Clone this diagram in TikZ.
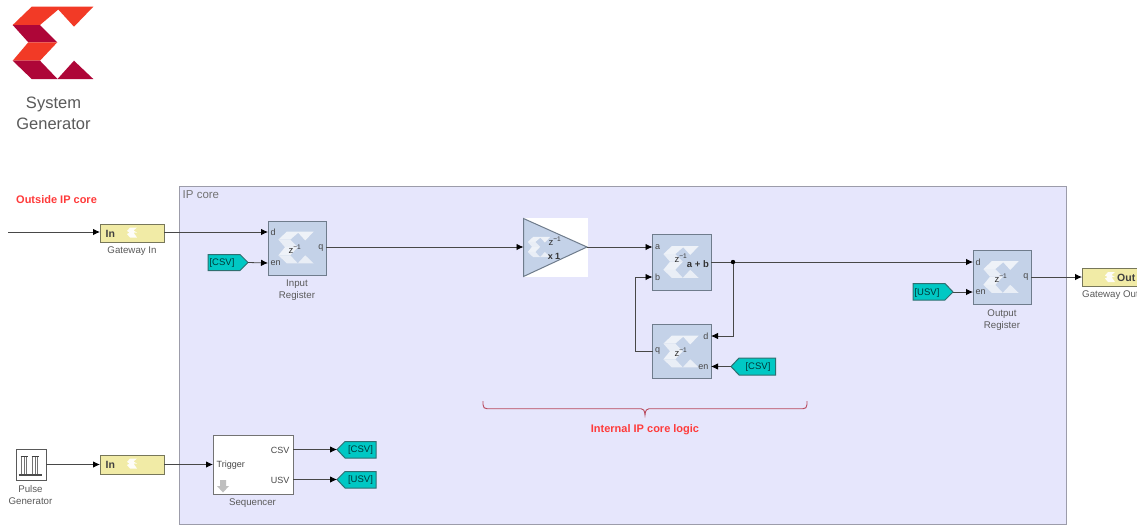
\documentclass[tikz,border=0pt]{standalone}
\usepackage{fontspec}
\setmainfont{Liberation Sans}
\usetikzlibrary{arrows.meta}
\definecolor{corefill}{HTML}{E6E6FC}
\definecolor{coreline}{HTML}{9C9CAA}
\definecolor{blockfill}{HTML}{C4D2E8}
\definecolor{blockline}{HTML}{6F7C8C}
\definecolor{gwfill}{HTML}{F1EBA6}
\definecolor{gwline}{HTML}{77775A}
\definecolor{tagfill}{HTML}{00C8C4}
\definecolor{tagline}{HTML}{2F6F70}
\definecolor{txt}{HTML}{5A5A5A}
\definecolor{logoor}{HTML}{F23A26}
\definecolor{logomr}{HTML}{AE0638}
\definecolor{redtxt}{HTML}{FF3B3B}
\definecolor{bracecol}{HTML}{B8485C}
\definecolor{logopale}{HTML}{EEF2F8}
% logo geometry, centred on (0,0), about 81 x 72 units
\newcommand{\xmark}[4]{% cx, cy, scale, fill
  \begin{scope}[shift={(#1,#2)},xscale=#3,yscale=#3]
    \fill[#4] (-21,-36) -- (40,-36) -- (21,-16) -- (5,-33.5) -- (-13,-18) -- (-40,-18) -- cycle;
    \fill[#4!88!blockfill] (-40,-18) -- (-13,-18) -- (4,-.7) -- (-25,-.7) -- cycle;
    \fill[#4] (-25,-.7) -- (4,-.7) -- (-13,17.7) -- (-40,17.7) -- cycle;
    \fill[#4!88!blockfill] (-40,17.7) -- (-13,17.7) -- (4,36) -- (-21,36) -- cycle;
    \fill[#4!88!blockfill] (4,36) -- (21,17.7) -- (40,36) -- cycle;
  \end{scope}}
\newcommand{\gwmark}[2]{% the small white mark in a gateway
  \begin{scope}[shift={(#1,#2)}]
    \fill[white!92!gwfill] (-2,-5) -- (5,-5) -- (1.5,-2) -- (5,0) -- (1.5,0) -- (5,5) -- (-2,5) -- (-5,1.5) -- (-2.5,0) -- (-5,-1.5) -- cycle;
  \end{scope}}
\newcommand{\zlab}[2]{\node[font=\fontsize{9.5}{10}\selectfont,text=black!80,inner sep=0pt] at (#1,#2) {z\textsuperscript{−1}};}
\tikzset{
  x=1pt,y=-1pt,
  lab/.style={font=\fontsize{9.7}{12}\selectfont,text=txt,align=center,inner sep=0pt},
  port/.style={font=\fontsize{9}{10}\selectfont,text=black!72,inner sep=0pt},
  blockbox/.style={draw=blockline,line width=1pt,fill=blockfill,inner sep=0pt,outer sep=0pt},
  gwbox/.style={draw=gwline,line width=.9pt,fill=gwfill,inner sep=0pt,outer sep=0pt},
  gwtext/.style={font=\fontsize{10.5}{11}\selectfont\bfseries,text=black!75,inner sep=0pt},
  tagtext/.style={font=\fontsize{9.5}{10}\selectfont,text=black!55!teal,inner sep=0pt,yshift=-1pt},
  tagshape/.style={draw=tagline,line width=1pt,fill=tagfill},
  wire/.style={draw=black!72,line width=.8pt},
  arrow/.style={wire,-{Latex[length=7pt,width=6.5pt,black]}},
  redlab/.style={font=\fontsize{11}{13}\selectfont\bfseries,text=redtxt,inner sep=0pt}
}
\newcommand{\xblock}[5]{% name, x0,y0,w,h
  \node[blockbox,minimum width=#4pt,minimum height=#5pt,anchor=north west] (#1) at (#2,#3) {};}
\begin{document}
\begin{tikzpicture}
\useasboundingbox (0,0) rectangle (1137,525);
\fill[white] (0,0) rectangle (1137,525);
% logo
\fill[logoor] (31.7,6.7) -- (93.3,6.7) -- (74,26.7) -- (58.3,9.5) -- (40,25) -- (12.7,25) -- cycle;
\fill[logomr] (12.7,25) -- (40,25) -- (57.3,42.3) -- (28.3,42.3) -- cycle;
\fill[logoor] (28.3,42.3) -- (57.3,42.3) -- (40,60.7) -- (12.7,60.7) -- cycle;
\fill[logomr] (12.7,60.7) -- (40,60.7) -- (57.5,79) -- (31.7,79) -- cycle;
\fill[logomr] (57.5,79) -- (74,60.7) -- (93.3,79) -- cycle;
\node[font=\fontsize{16.5}{21}\selectfont,text=txt,align=center,inner sep=0pt] (sysgen) at (53.5,113.5) {System\\Generator};
% IP core
\node[draw=coreline,line width=1pt,fill=corefill,minimum width=887pt,minimum height=338pt,anchor=north west,inner sep=0pt,outer sep=0pt] (core) at (179,186) {};
\node[font=\fontsize{11.5}{12}\selectfont,text=black!55,inner sep=0pt,anchor=west] (corelab) at (182.5,195) {IP core};
\node[redlab,anchor=west] (outlab) at (16,200) {Outside IP core};
% gateway in
\node[gwbox,minimum width=64pt,minimum height=18pt,anchor=north west] (gwin) at (100,224) {};
\gwmark{132}{232.5}
\node[gwtext,anchor=west] at (105.5,233.5) {In};
\node[lab] (gwinlab) at (132,251.5) {Gateway In};
\coordinate (src) at (8,232);
% input reg
\xblock{ireg}{268}{221}{58}{54}
\xmark{296}{247.5}{.44}{logopale}
\zlab{295}{249.5}
\coordinate (iregd) at (268,232); \coordinate (iregen) at (268,263); \coordinate (iregq) at (326,247);
\node[port,anchor=west] at (270.5,232.5) {d};
\node[port,anchor=west] at (270.5,263.5) {en};
\node[port,anchor=east] at (323.5,248) {q};
\node[lab] (ireglab) at (297,290) {Input\\Register};
% csv tag 1
\draw[tagshape] (208,254.5) -- (240,254.5) -- (248,262.5) -- (240,270.5) -- (208,270.5) -- cycle;
\coordinate (tag1) at (248,262.5);
\node[tagtext] at (222,262.5) {[CSV]};
% gain
\fill[white] (523,218) rectangle (588,277);
\draw[blockbox] (523.5,218.5) -- (587,247) -- (523.5,276.5) -- cycle;
\xmark{539}{247}{.28}{logopale}
\zlab{555}{241.5}
\node[font=\fontsize{9}{10}\selectfont\bfseries,text=black!80,inner sep=0pt] at (554,256) {x 1};
\coordinate (gainin) at (523.5,247); \coordinate (gainout) at (587,247);
% adder
\xblock{add}{652.5}{234.5}{58.5}{56}
\xmark{681}{262}{.44}{logopale}
\zlab{681}{258}
\node[font=\fontsize{9.5}{10}\selectfont\bfseries,text=black!80,inner sep=0pt,anchor=east] at (709,264) {a + b};
\node[port,anchor=west] at (655,247) {a};
\node[port,anchor=west] at (655,277) {b};
\coordinate (adda) at (652.5,247); \coordinate (addb) at (652.5,277); \coordinate (addo) at (711,262);
% accum reg
\xblock{acc}{652.5}{324}{58.5}{54}
\xmark{681}{351.5}{.44}{logopale}
\zlab{681}{352}
\node[port,anchor=east] at (708.5,336) {d};
\node[port,anchor=east] at (708.5,367) {en};
\node[port,anchor=west] at (655,351.5) {q};
\coordinate (accd) at (711,336); \coordinate (accen) at (711,366.5); \coordinate (accq) at (652.5,351);
\draw[tagshape] (775.5,358) -- (739,358) -- (731,366.5) -- (739,375) -- (775.5,375) -- cycle;
\coordinate (tag2) at (731,366.5);
\node[tagtext] at (758,366.5) {[CSV]};
\coordinate (junc) at (733,262);
\coordinate (corner1) at (733,336);
\coordinate (corner2) at (635,351);
\coordinate (corner3) at (635,277);
% output reg
\xblock{oreg}{973}{250}{58}{54}
\xmark{1001}{277}{.44}{logopale}
\zlab{1001}{278}
\node[port,anchor=west] at (975.5,262) {d};
\node[port,anchor=west] at (975.5,292.5) {en};
\node[port,anchor=east] at (1028.5,277.5) {q};
\coordinate (oregd) at (973,262); \coordinate (orege) at (973,292); \coordinate (oregq) at (1031,277);
\node[lab] (oreglab) at (1002,320) {Output\\Register};
\draw[tagshape] (913,283.5) -- (945,283.5) -- (953,292) -- (945,300) -- (913,300) -- cycle;
\coordinate (tag3) at (953,292);
\node[tagtext] at (927,292) {[USV]};
% gateway out
\node[gwbox,minimum width=57pt,minimum height=18pt,anchor=north west] (gwout) at (1082,268.5) {};
\gwmark{1110}{277}
\node[gwtext,anchor=west] at (1117,278) {Out};
\node[lab,anchor=west] (gwoutlab) at (1082,295.5) {Gateway Out};
\coordinate (gwouti) at (1082,277);
% pulse generator
\node[draw=black!65,line width=1pt,fill=white,minimum width=30pt,minimum height=31pt,anchor=north west,inner sep=0pt,outer sep=0pt] (pulse) at (16,449) {};
\foreach \xx in {21.5,24,26.5,32.5,35,37.5}{
  \draw[black!55,line width=.7pt] (\xx,456.5) -- (\xx,475);
}
\draw[black!75,line width=1.6pt] (20.5,456.5) -- (27.5,456.5) (31.5,456.5) -- (38.5,456.5);
\draw[black!70,line width=1.2pt] (18.5,475) -- (42,475);
\node[lab] (pulselab) at (30.5,495) {Pulse\\Generator};
\coordinate (pulseo) at (46,464.5);
% gateway in 2
\node[gwbox,minimum width=64pt,minimum height=19pt,anchor=north west] (gwin2) at (100,455) {};
\gwmark{132}{463.5}
\node[gwtext,anchor=west] at (105.5,465) {In};
% sequencer
\node[draw=black!55,line width=1pt,fill=white,minimum width=80pt,minimum height=59pt,anchor=north west,inner sep=0pt,outer sep=0pt] (seq) at (213,435) {};
\node[port,anchor=west] at (216.5,465) {Trigger};
\node[port,anchor=east] at (289.5,450) {CSV};
\node[port,anchor=east] at (289.5,480) {USV};
\fill[black!25] (220,480) -- (226,480) -- (226,486) -- (229,486) -- (223,492.5) -- (217,486) -- (220,486) -- cycle;
\node[lab] (seqlab) at (252.5,503.5) {Sequencer};
\coordinate (seqt) at (213,464.5); \coordinate (seqc) at (293,449.5); \coordinate (sequ) at (293,479.5);
\draw[tagshape] (376,441.5) -- (345,441.5) -- (337,449.5) -- (345,458) -- (376,458) -- cycle;
\draw[tagshape] (376,471.5) -- (345,471.5) -- (337,479.5) -- (345,488) -- (376,488) -- cycle;
\coordinate (tag4) at (337,449.5); \coordinate (tag5) at (337,479.5);
\node[tagtext] at (360.5,449.5) {[CSV]};
\node[tagtext] at (360.5,479.5) {[USV]};
% brace
\draw[draw=bracecol,line width=.9pt] (483,401) -- (483,404.5) .. controls (483,407.5) and (484.5,408.7) .. (487,408.7) -- (641,408.7) .. controls (643,408.7) and (644.7,410) .. (645,415) .. controls (645.3,410) and (647,408.7) .. (649,408.7) -- (803,408.7) .. controls (805.5,408.7) and (807,407.5) .. (807,404.5) -- (807,401);
\node[redlab] (intlab) at (645,430) {Internal IP core logic};
% wires
\draw[arrow] (src) -- (100,232);
\draw[arrow] (gwin.east |- iregd) -- (iregd);
\draw[arrow] (tag1) -- (iregen);
\draw[arrow] (iregq) -- (gainin);
\draw[arrow] (gainout) -- (adda);
\draw[wire] (addo) -- (junc);
\draw[arrow] (junc) -- (oregd);
\draw[arrow] (junc) -- (corner1) -- (accd);
\draw[arrow] (accq) -- (corner2) -- (corner3) -- (addb);
\draw[arrow] (tag2) -- (accen);
\fill[black] (junc) circle (2.2pt);
\draw[arrow] (tag3) -- (orege);
\draw[arrow] (oregq) -- (gwouti);
\draw[arrow] (pulseo) -- (gwin2.west);
\draw[arrow] (gwin2.east) -- (seqt);
\draw[arrow] (seqc) -- (tag4);
\draw[arrow] (sequ) -- (tag5);
\end{tikzpicture}
\end{document}
